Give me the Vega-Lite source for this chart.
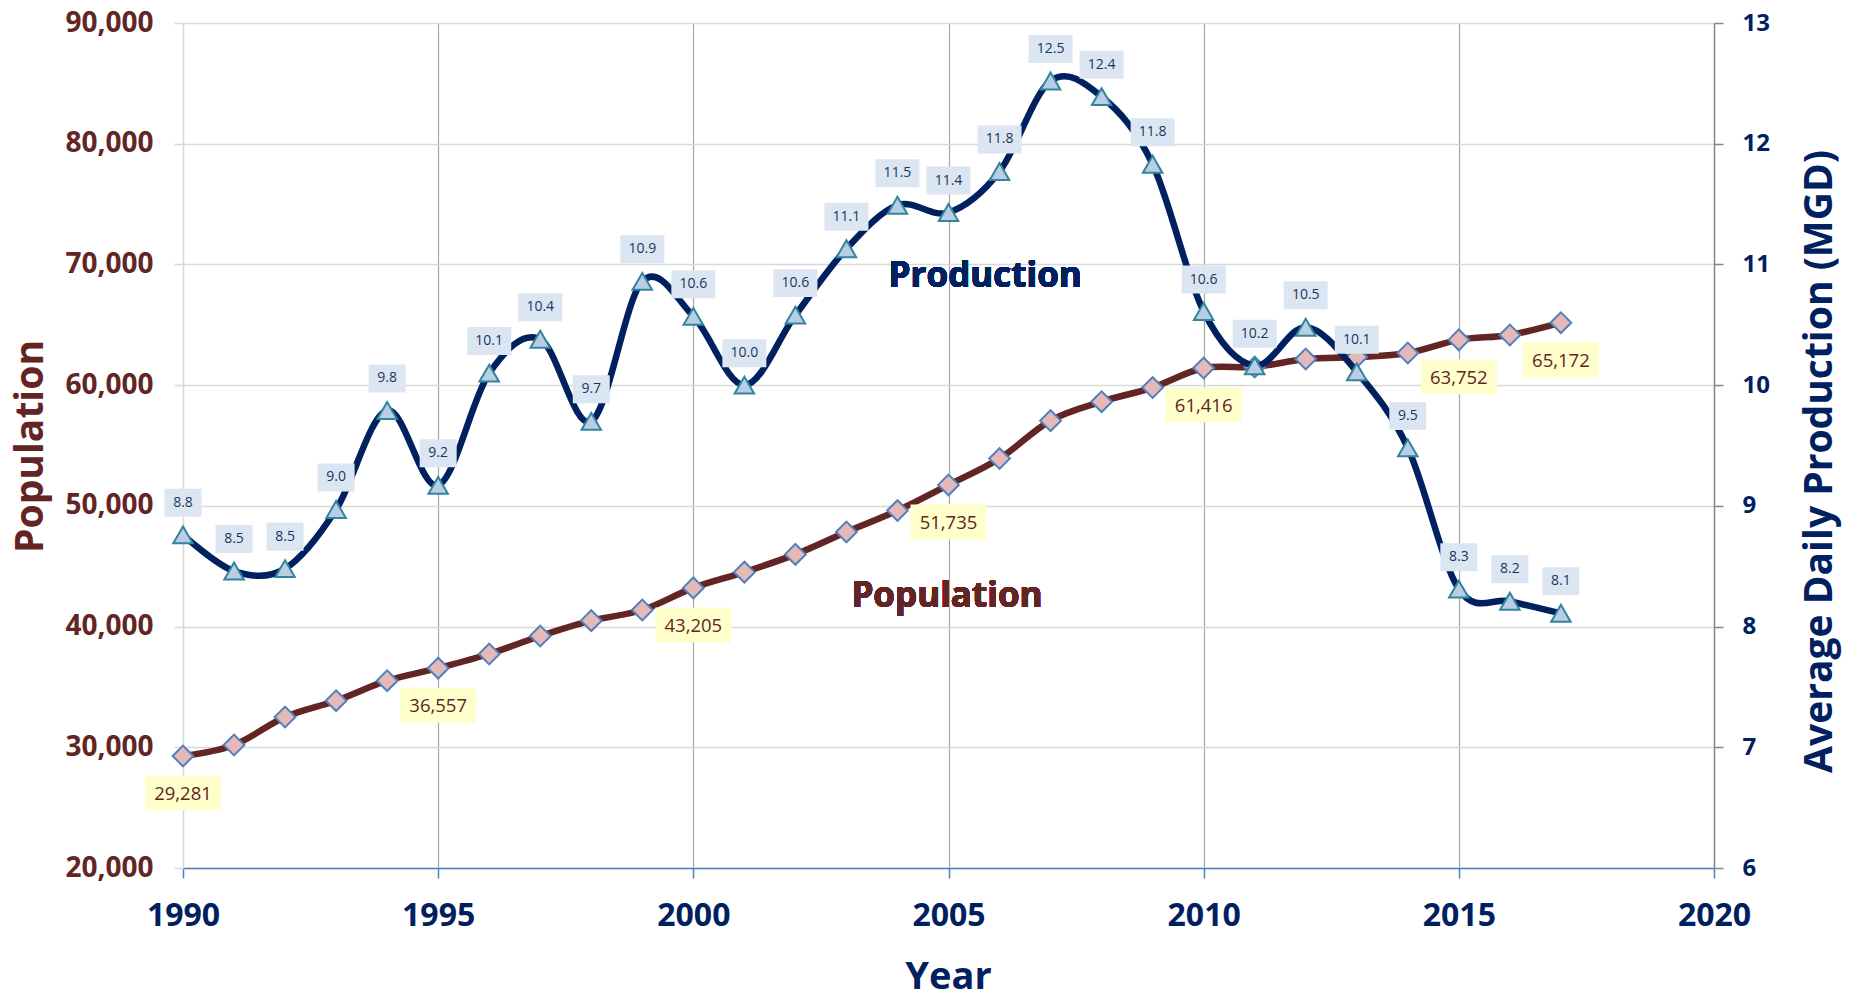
{
  "$schema": "https://vega.github.io/schema/vega-lite/v6.json",
  "width": 1531,
  "height": 845,
  "autosize": {"type": "none"},
  "padding": {"left": 183, "top": 23, "right": 144, "bottom": 130},
  "background": "white",
  "config": {"view": {"stroke": null}, "font": "Open Sans"},
  "data": {
    "values": [
      {"year": 1990, "pop": 29281, "prod": 8.76},
      {"year": 1991, "pop": 30190, "prod": 8.46},
      {"year": 1992, "pop": 32508, "prod": 8.48},
      {"year": 1993, "pop": 33860, "prod": 8.97},
      {"year": 1994, "pop": 35517, "prod": 9.79},
      {"year": 1995, "pop": 36557, "prod": 9.17},
      {"year": 1996, "pop": 37728, "prod": 10.1},
      {"year": 1997, "pop": 39216, "prod": 10.38},
      {"year": 1998, "pop": 40490, "prod": 9.7},
      {"year": 1999, "pop": 41373, "prod": 10.86},
      {"year": 2000, "pop": 43205, "prod": 10.57},
      {"year": 2001, "pop": 44510, "prod": 10.0},
      {"year": 2002, "pop": 45980, "prod": 10.58},
      {"year": 2003, "pop": 47840, "prod": 11.13},
      {"year": 2004, "pop": 49610, "prod": 11.49},
      {"year": 2005, "pop": 51735, "prod": 11.43},
      {"year": 2006, "pop": 53920, "prod": 11.77},
      {"year": 2007, "pop": 57060, "prod": 12.52},
      {"year": 2008, "pop": 58630, "prod": 12.39},
      {"year": 2009, "pop": 59800, "prod": 11.83},
      {"year": 2010, "pop": 61416, "prod": 10.61},
      {"year": 2011, "pop": 61500, "prod": 10.16},
      {"year": 2012, "pop": 62166, "prod": 10.48},
      {"year": 2013, "pop": 62330, "prod": 10.11},
      {"year": 2014, "pop": 62663, "prod": 9.48},
      {"year": 2015, "pop": 63752, "prod": 8.31},
      {"year": 2016, "pop": 64154, "prod": 8.21},
      {"year": 2017, "pop": 65172, "prod": 8.11}
    ]
  },
  "encoding": {
    "x": {
      "field": "year",
      "type": "quantitative",
      "scale": {"domain": [1990, 2020], "nice": false, "zero": false},
      "axis": {
        "title": "Year",
        "values": [1990, 1995, 2000, 2005, 2010, 2015, 2020],
        "format": "d",
        "grid": true,
        "gridColor": {"condition": {"test": "datum.value == 1990 || datum.value == 2020", "value": "#d9d9d9"}, "value": "#a6a6a6"},
        "gridWidth": 1.2,
        "domainColor": "#4f81bd",
        "domainWidth": 1.5,
        "tickColor": "#4f81bd",
        "tickWidth": 1.5,
        "tickSize": 10,
        "labelFont": "Open Sans",
        "labelFontWeight": "bold",
        "labelFontSize": 32,
        "labelColor": "#002060",
        "labelPadding": 22,
        "labelFlush": false,
        "titleFont": "Open Sans",
        "titleFontWeight": "bold",
        "titleFontSize": 38,
        "titleColor": "#002060",
        "titleX": 765,
        "titleY": 109,
        "titleBaseline": "middle",
        "titleAlign": "center"
      }
    }
  },
  "layer": [
    {
      "encoding": {
        "y": {
          "field": "pop",
          "type": "quantitative",
          "scale": {"domain": [20000, 90000], "nice": false, "zero": false},
          "axis": {
            "orient": "left",
            "title": "Population",
            "values": [20000, 30000, 40000, 50000, 60000, 70000, 80000, 90000],
            "format": ",d",
            "grid": true,
            "gridColor": "#d9d9d9",
            "gridWidth": 1.5,
            "domainColor": "#d9d9d9",
            "domainWidth": 1.5,
            "tickColor": "#d9d9d9",
            "tickWidth": 1.5,
            "tickSize": 9,
            "labelFont": "Open Sans",
            "labelFontWeight": "bold",
            "labelFontSize": 28,
            "labelColor": "#632523",
            "labelPadding": 21,
            "labelFlush": false,
            "titleFont": "Open Sans",
            "titleFontWeight": "bold",
            "titleFontSize": 39,
            "titleColor": "#632523",
            "titleX": -153,
            "titleY": 423,
            "titleAngle": -90,
            "titleBaseline": "middle",
            "titleAlign": "center"
          }
        }
      },
      "layer": [
        {
          "mark": {"type": "line", "color": "#632523", "strokeWidth": 6.5, "interpolate": "cardinal", "tension": 0}
        },
        {
          "mark": {"type": "point", "shape": "diamond", "size": 430, "filled": true, "fill": "#e6b9b8", "stroke": "#4f81bd", "strokeWidth": 2, "opacity": 1}
        },
        {
          "transform": [{"filter": "datum.year % 5 == 0 || datum.year == 2017"}],
          "mark": {"type": "point", "shape": "M-1,-0.4605H1V0.4605H-1Z", "size": 5776, "filled": true, "fill": "#ffffcc", "strokeWidth": 0, "opacity": 1, "yOffset": 37}
        },
        {
          "transform": [{"filter": "datum.year % 5 == 0 || datum.year == 2017"}],
          "mark": {"type": "text", "font": "Open Sans", "fontSize": 18.5, "color": "#632523", "baseline": "middle", "align": "center", "yOffset": 38},
          "encoding": {"text": {"field": "pop", "type": "quantitative", "format": ",d"}}
        },
        {
          "mark": {"type": "text", "font": "Open Sans", "fontWeight": "bold", "fontSize": 35, "color": "#632523", "baseline": "middle", "align": "center"},
          "encoding": {
            "x": {"datum": 2004.97, "type": "quantitative"},
            "y": {"datum": 42533, "type": "quantitative"},
            "text": {"value": "Population"}
          }
        }
      ]
    },
    {
      "encoding": {
        "y": {
          "field": "prod",
          "type": "quantitative",
          "scale": {"domain": [6, 13], "nice": false, "zero": false},
          "axis": {
            "orient": "right",
            "title": "Average Daily Production (MGD)",
            "values": [6, 7, 8, 9, 10, 11, 12, 13],
            "format": "d",
            "grid": false,
            "domainColor": "#868686",
            "domainWidth": 1.5,
            "tickColor": "#868686",
            "tickWidth": 1.5,
            "tickSize": 9,
            "labelFont": "Open Sans",
            "labelFontWeight": "bold",
            "labelFontSize": 24,
            "labelColor": "#002060",
            "labelPadding": 19,
            "labelFlush": false,
            "titleFont": "Open Sans",
            "titleFontWeight": "bold",
            "titleFontSize": 39,
            "titleColor": "#002060",
            "titleX": 105,
            "titleY": 438,
            "titleAngle": -90,
            "titleBaseline": "middle",
            "titleAlign": "center"
          }
        }
      },
      "layer": [
        {
          "mark": {"type": "line", "color": "#002060", "strokeWidth": 6.5, "interpolate": "cardinal", "tension": 0}
        },
        {
          "mark": {"type": "point", "shape": "triangle-up", "size": 380, "filled": true, "fill": "#b9cde5", "stroke": "#31859c", "strokeWidth": 2, "opacity": 1}
        },
        {
          "transform": [{"filter": "datum.prod < 9.95"}],
          "mark": {"type": "point", "shape": "M-1,-0.757H1V0.757H-1Z", "size": 1369, "filled": true, "fill": "#dce6f2", "strokeWidth": 0, "opacity": 1, "yOffset": -32}
        },
        {
          "transform": [{"filter": "datum.prod >= 9.95"}],
          "mark": {"type": "point", "shape": "M-1,-0.636H1V0.636H-1Z", "size": 1936, "filled": true, "fill": "#dce6f2", "strokeWidth": 0, "opacity": 1, "yOffset": -32}
        },
        {
          "mark": {"type": "text", "font": "Open Sans", "fontSize": 14, "color": "#17375e", "baseline": "middle", "align": "center", "yOffset": -32},
          "encoding": {"text": {"field": "prod", "type": "quantitative", "format": ".1f"}}
        },
        {
          "mark": {"type": "text", "font": "Open Sans", "fontWeight": "bold", "fontSize": 35, "color": "#002060", "baseline": "middle", "align": "center"},
          "encoding": {
            "x": {"datum": 2005.72, "type": "quantitative"},
            "y": {"datum": 10.904, "type": "quantitative"},
            "text": {"value": "Production"}
          }
        }
      ]
    }
  ],
  "resolve": {"scale": {"y": "independent"}}
}
